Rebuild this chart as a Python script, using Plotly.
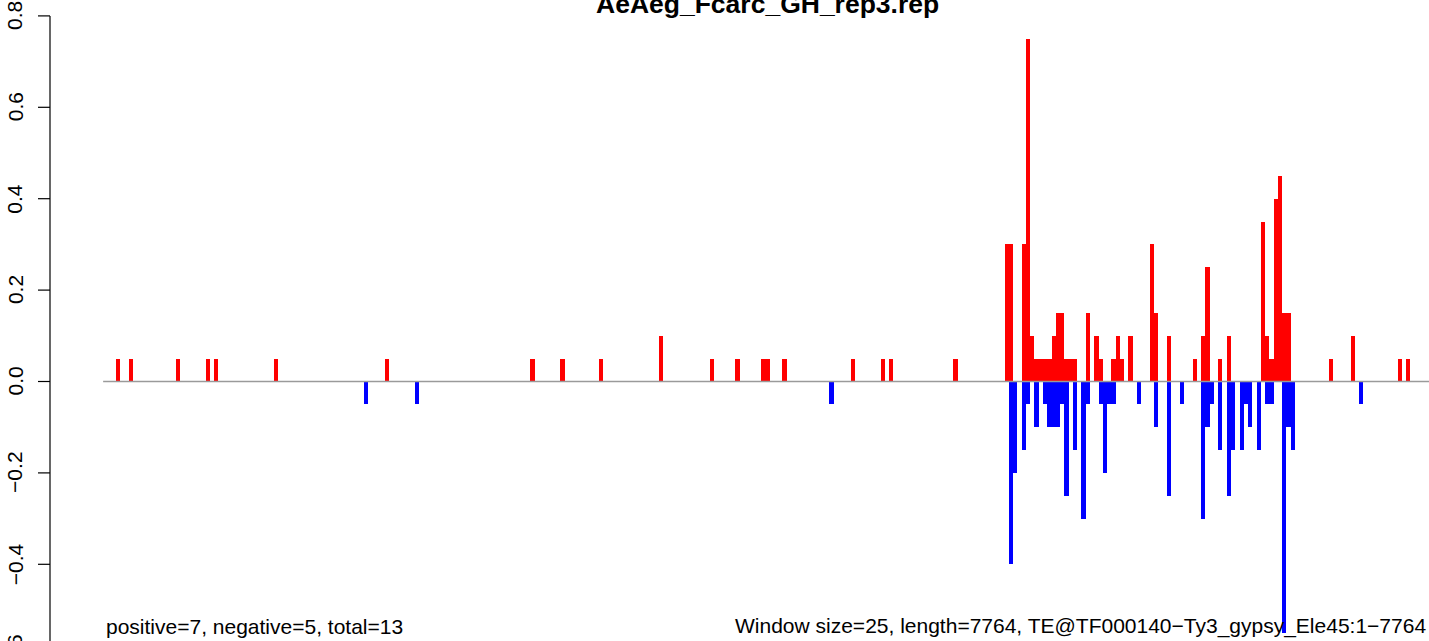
import plotly.graph_objects as go

# ---------------- data ----------------
n_windows = 311  # length 7764 / window size 25

pos_windows = [3, 6, 17, 24, 26, 40, 66, 100, 107, 116, 130, 142, 148, 154, 155, 159,
               175, 182, 184, 199, 211, 212, 215, 216, 217, 218, 219, 220, 221, 222,
               223, 224, 225, 226, 227, 230, 232, 233, 236, 237, 238, 240, 245, 246,
               249, 255, 257, 258, 261, 263, 271, 272, 273, 274, 275, 276, 277, 287,
               292, 303, 305]
pos_values = [0.05, 0.05, 0.05, 0.05, 0.05, 0.05, 0.05, 0.05, 0.05, 0.05, 0.10, 0.05,
              0.05, 0.05, 0.05, 0.05, 0.05, 0.05, 0.05, 0.05, 0.30, 0.30, 0.30, 0.75,
              0.10, 0.05, 0.05, 0.05, 0.05, 0.10, 0.15, 0.15, 0.05, 0.05, 0.05, 0.15,
              0.10, 0.05, 0.05, 0.10, 0.05, 0.10, 0.30, 0.15, 0.10, 0.05, 0.10, 0.25,
              0.05, 0.10, 0.35, 0.10, 0.05, 0.40, 0.45, 0.15, 0.15, 0.05, 0.10, 0.05,
              0.05]

neg_windows = [61, 73, 170, 212, 213, 215, 216, 218, 220, 221, 222, 223, 224, 225, 227,
               229, 230, 233, 234, 235, 236, 242, 246, 249, 252, 257, 258, 259, 261,
               263, 264, 266, 267, 268, 270, 272, 273, 276, 277, 278, 294]
neg_values = [-0.05, -0.05, -0.05, -0.40, -0.20, -0.15, -0.05, -0.10, -0.05, -0.10,
              -0.10, -0.10, -0.05, -0.25, -0.15, -0.30, -0.05, -0.05, -0.20, -0.05,
              -0.05, -0.05, -0.10, -0.25, -0.05, -0.30, -0.10, -0.05, -0.15, -0.25,
              -0.15, -0.15, -0.05, -0.10, -0.15, -0.05, -0.05, -0.55, -0.10, -0.15,
              -0.05]

y_tick_vals = [-0.6, -0.4, -0.2, 0.0, 0.2, 0.4, 0.6, 0.8]
y_tick_text = ["\u22120.6", "\u22120.4", "\u22120.2", "0.0", "0.2", "0.4", "0.6", "0.8"]

title_text = "AeAeg_Fcarc_GH_rep3.rep"
left_note = "positive=7, negative=5, total=13"
right_note = "Window size=25, length=7764, TE@TF000140\u2212Ty3_gypsy_Ele45:1\u22127764"

# ---------------- layout geometry ----------------
W, H = 1429, 641
ML = 50
px_per_win = 4.272
x_lo = -0.04 * n_windows
x_hi = x_lo + (W - ML) / px_per_win
zero_px = 381.5
px_per_unit = 457.0
y_hi = zero_px / px_per_unit
y_lo = -(H - zero_px) / px_per_unit

FONT = "Liberation Sans, Arial, Helvetica, sans-serif"


def ypaper(v):
    return (v - y_lo) / (y_hi - y_lo)


def xpaper_px(px):
    return (px - ML) / (W - ML)


fig = go.Figure()
fig.add_bar(x=[k + 0.5 for k in pos_windows], y=pos_values, width=1,
            marker=dict(color="#FF0000", line=dict(width=0)), showlegend=False)
fig.add_bar(x=[k + 0.5 for k in neg_windows], y=neg_values, width=1,
            marker=dict(color="#0000FF", line=dict(width=0)), showlegend=False)

shapes = [
    dict(type="line", xref="x", yref="y", x0=0, x1=n_windows, y0=0, y1=0,
         line=dict(color="#9a9a9a", width=1.3), layer="above"),
    dict(type="line", xref="paper", yref="y", x0=0, x1=0, y0=-0.6, y1=0.8,
         line=dict(color="black", width=1.2)),
]
for v in y_tick_vals:
    shapes.append(dict(type="line", xref="paper", yref="y",
                       x0=xpaper_px(ML - 12), x1=0, y0=v, y1=v,
                       line=dict(color="black", width=1.2)))

annotations = []
for v, t in zip(y_tick_vals, y_tick_text):
    annotations.append(dict(text=t, xref="paper", yref="paper",
                            x=xpaper_px(15.0), y=ypaper(v), xanchor="center",
                            yanchor="middle", textangle=-90, showarrow=False,
                            font=dict(family=FONT, size=21, color="black")))

x_region_hi = n_windows * 1.04
center_data = (x_lo + x_region_hi) / 2.0
annotations.append(dict(text="<b>" + title_text + "</b>", xref="paper", yref="paper",
                        x=(center_data - x_lo) / (x_hi - x_lo), y=1.0,
                        yshift=13, xanchor="center", yanchor="top", showarrow=False,
                        font=dict(family=FONT, size=26.5, color="black")))
annotations.append(dict(text=left_note, xref="paper", yref="paper",
                        x=xpaper_px(103.5), y=0, yshift=1, xanchor="left",
                        yanchor="bottom", showarrow=False,
                        font=dict(family=FONT, size=21, color="black")))
annotations.append(dict(text=right_note, xref="paper", yref="paper",
                        x=1.0, y=0, yshift=1, xshift=-1, xanchor="right",
                        yanchor="bottom", showarrow=False,
                        font=dict(family=FONT, size=21, color="black")))

fig.update_layout(
    width=W, height=H,
    margin=dict(l=ML, r=0, t=0, b=0, pad=0),
    paper_bgcolor="white", plot_bgcolor="white",
    barmode="overlay", bargap=0,
    xaxis=dict(range=[x_lo, x_hi], visible=False, showgrid=False, zeroline=False),
    yaxis=dict(range=[y_lo, y_hi], showgrid=False, zeroline=False, showline=False,
               showticklabels=False, ticks=""),
    shapes=shapes, annotations=annotations,
    font=dict(family=FONT),
)

fig.write_html(
    "out.html",
    config={"displayModeBar": False},
    post_script="document.body.style.margin='0px';document.body.style.padding='0px';"
                "document.documentElement.style.overflow='hidden';",
)
